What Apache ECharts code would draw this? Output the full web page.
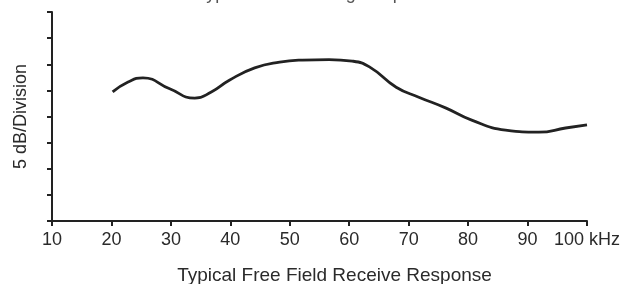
<!DOCTYPE html>
<html>
<head>
<meta charset="utf-8">
<script src="https://cdn.jsdelivr.net/npm/echarts@6/dist/echarts.min.js"></script>
<style>
  html, body { margin: 0; padding: 0; background: #fff; }
  #chart { width: 638px; height: 284px; }
</style>
</head>
<body>
<div id="chart"></div>
<script>
  // frequency (kHz) and response (dB, 5 dB per division)
  var freq = [20.2, 22.8, 25.3, 29.8, 34.0, 36.8, 39.9, 44.1, 48.3, 52.1, 56.6, 60.5, 63.4, 67.9, 71.7, 76.3, 80.6, 86.3, 91.9, 96.4, 100];
  var level = [24.7, 26.6, 27.4, 25.3, 23.5, 24.7, 27.0, 29.3, 30.4, 30.8, 30.9, 30.6, 29.5, 25.6, 23.7, 21.6, 19.3, 17.4, 17.0, 17.8, 18.4];
  var xTicks = [10, 20, 30, 40, 50, 60, 70, 80, 90, 100];

  var points = freq.map(function (f, i) { return [f, level[i]]; });

  var myChart = echarts.init(document.getElementById('chart'));
  myChart.setOption({
    animation: false,
    title: {
      text: 'Typical Transmitting Response',
      left: 'center',
      top: -20,
      textStyle: { fontFamily: 'Liberation Sans', fontSize: 18, fontWeight: 'normal', color: '#555' }
    },
    grid: { left: 52, right: 51, top: 12, bottom: 63, outerBoundsMode: 'none' },
    xAxis: {
      type: 'value',
      min: 10,
      max: 100,
      interval: 10,
      name: 'Typical Free Field Receive Response',
      nameLocation: 'middle',
      nameGap: 45,
      nameTextStyle: { fontFamily: 'Liberation Sans', fontSize: 19, color: '#2a2a2a', padding: [0, 0, 0, 30] },
      axisLine: { lineStyle: { color: '#222', width: 2 } },
      axisTick: { length: 5, lineStyle: { color: '#222', width: 2 } },
      axisLabel: {
        fontFamily: 'Liberation Sans',
        fontSize: 18,
        color: '#2a2a2a',
        margin: 10,
        formatter: function (v) {
          if (xTicks.indexOf(v) < 0) return '';
          return v === 100 ? '100 kHz' : String(v);
        }
      },
      splitLine: { show: false }
    },
    yAxis: {
      type: 'value',
      min: 0,
      max: 40,
      interval: 5,
      name: '5 dB/Division',
      nameLocation: 'middle',
      nameGap: 22,
      nameTextStyle: { fontFamily: 'Liberation Sans', fontSize: 18, color: '#2a2a2a' },
      axisLine: { show: true, lineStyle: { color: '#222', width: 2 } },
      axisTick: { show: true, length: 5, lineStyle: { color: '#222', width: 2 } },
      axisLabel: { show: false },
      splitLine: { show: false }
    },
    series: [{
      type: 'line',
      data: points,
      smooth: 0.5,
      showSymbol: false,
      lineStyle: { color: '#222', width: 2.8 }
    }]
  });
</script>
</body>
</html>
